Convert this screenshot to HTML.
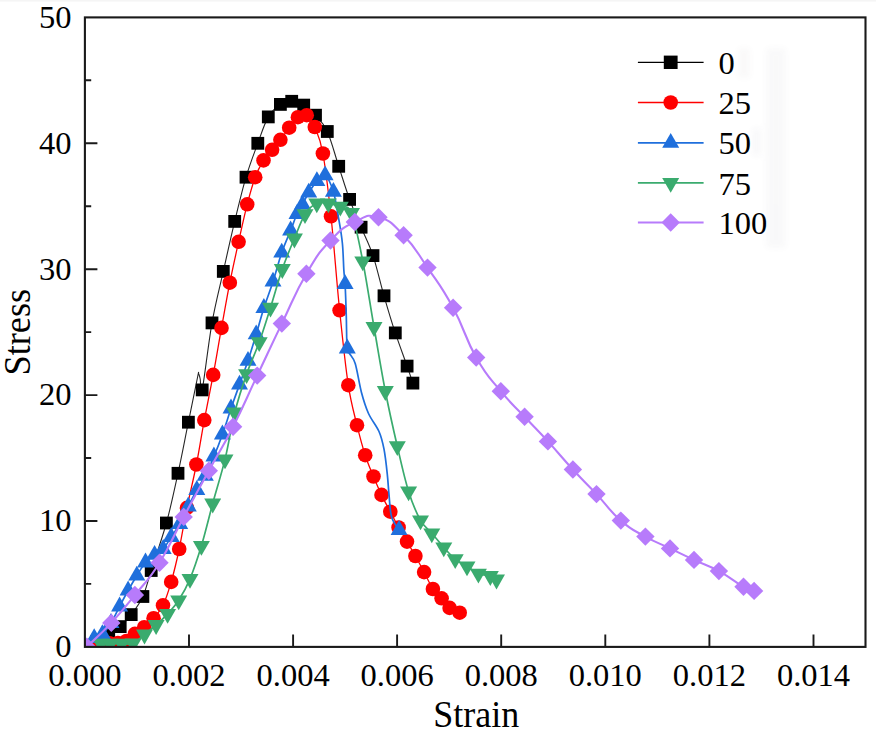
<!DOCTYPE html><html><head><meta charset="utf-8"><title>Stress-Strain</title>
<style>html,body{margin:0;padding:0;background:#fff;}svg{display:block;}text{font-family:"Liberation Serif",serif;fill:#000;}</style></head><body>
<svg width="876" height="729" viewBox="0 0 876 729">
<rect width="876" height="729" fill="#fff"/><rect width="876" height="1.6" fill="#f5f5f5"/>
<defs><clipPath id="cp"><rect x="84.9" y="17.4" width="780.6" height="629.5"/></clipPath></defs>
<g clip-path="url(#cp)">
<path d="M85.3,646.0C87.2,645.2 92.9,643.3 96.8,641.5C100.7,639.7 104.8,637.5 108.7,635.0C112.6,632.5 116.5,630.0 120.2,626.6C124.0,623.2 127.4,619.6 131.2,614.6C135.0,609.6 139.6,603.9 142.9,596.5C146.2,589.1 147.3,582.8 151.2,570.5C155.1,558.2 161.9,539.2 166.4,523.0C170.9,506.8 174.3,490.1 178.0,473.3C181.7,456.5 185.1,438.2 188.4,422.2C191.7,406.1 195.9,385.1 197.6,377.0C199.3,368.9 198.2,373.5 198.6,373.8C199.0,374.1 199.6,376.3 200.2,379.0C200.8,381.7 200.2,399.2 202.2,389.9C204.2,380.5 208.5,342.6 212.0,322.9C215.5,303.1 219.5,288.3 223.3,271.4C227.1,254.5 230.9,237.1 234.7,221.4C238.5,205.7 242.2,190.2 246.0,177.2C249.8,164.2 254.1,153.4 257.8,143.3C261.5,133.2 264.5,123.4 268.3,116.9C272.1,110.4 276.5,107.0 280.4,104.4C284.3,101.8 287.8,101.2 291.7,101.3C295.6,101.4 299.7,102.8 303.7,105.1C307.7,107.4 311.6,110.8 315.5,115.2C319.4,119.6 323.4,123.0 327.3,131.5C331.2,140.0 335.0,155.0 338.7,166.3C342.4,177.6 345.9,189.2 349.6,199.4C353.3,209.6 357.2,217.8 361.1,227.2C365.0,236.6 369.2,244.2 373.0,255.6C376.8,267.0 380.3,282.9 384.0,295.8C387.7,308.7 391.4,321.2 395.3,332.9C399.2,344.6 404.2,357.7 407.1,366.1C410.0,374.5 411.9,380.3 412.9,383.1" fill="none" stroke="#262626" stroke-width="1.1" stroke-linejoin="round"/>
<rect x="78.9" y="639.6" width="12.8" height="12.8" fill="#000000"/><rect x="90.4" y="635.1" width="12.8" height="12.8" fill="#000000"/><rect x="102.3" y="628.6" width="12.8" height="12.8" fill="#000000"/><rect x="113.8" y="620.2" width="12.8" height="12.8" fill="#000000"/><rect x="124.8" y="608.2" width="12.8" height="12.8" fill="#000000"/><rect x="136.5" y="590.1" width="12.8" height="12.8" fill="#000000"/><rect x="144.8" y="564.1" width="12.8" height="12.8" fill="#000000"/><rect x="160.0" y="516.6" width="12.8" height="12.8" fill="#000000"/><rect x="171.6" y="466.9" width="12.8" height="12.8" fill="#000000"/><rect x="182.0" y="415.8" width="12.8" height="12.8" fill="#000000"/><rect x="195.8" y="383.5" width="12.8" height="12.8" fill="#000000"/><rect x="205.6" y="316.5" width="12.8" height="12.8" fill="#000000"/><rect x="216.9" y="265.0" width="12.8" height="12.8" fill="#000000"/><rect x="228.3" y="215.0" width="12.8" height="12.8" fill="#000000"/><rect x="239.6" y="170.8" width="12.8" height="12.8" fill="#000000"/><rect x="251.4" y="136.9" width="12.8" height="12.8" fill="#000000"/><rect x="261.9" y="110.5" width="12.8" height="12.8" fill="#000000"/><rect x="274.0" y="98.0" width="12.8" height="12.8" fill="#000000"/><rect x="285.3" y="94.9" width="12.8" height="12.8" fill="#000000"/><rect x="297.3" y="98.7" width="12.8" height="12.8" fill="#000000"/><rect x="309.1" y="108.8" width="12.8" height="12.8" fill="#000000"/><rect x="320.9" y="125.1" width="12.8" height="12.8" fill="#000000"/><rect x="332.3" y="159.9" width="12.8" height="12.8" fill="#000000"/><rect x="343.2" y="193.0" width="12.8" height="12.8" fill="#000000"/><rect x="354.7" y="220.8" width="12.8" height="12.8" fill="#000000"/><rect x="366.6" y="249.2" width="12.8" height="12.8" fill="#000000"/><rect x="377.6" y="289.4" width="12.8" height="12.8" fill="#000000"/><rect x="388.9" y="326.5" width="12.8" height="12.8" fill="#000000"/><rect x="400.7" y="359.7" width="12.8" height="12.8" fill="#000000"/><rect x="406.5" y="376.7" width="12.8" height="12.8" fill="#000000"/>
<path d="M92.4,645.0C93.8,644.8 98.1,643.8 100.9,643.5C103.7,643.2 106.6,643.3 109.4,643.2C112.2,643.1 115.1,643.4 117.9,643.0C120.7,642.6 123.6,642.5 126.4,641.0C129.2,639.5 131.9,636.1 134.9,633.8C137.9,631.5 141.1,629.8 144.2,627.2C147.3,624.6 150.5,621.9 153.6,618.2C156.7,614.6 160.1,611.3 163.0,605.3C165.9,599.2 168.5,591.3 171.2,581.9C173.9,572.5 176.6,561.4 179.2,549.0C181.8,536.6 184.1,521.9 187.0,507.8C189.9,493.7 193.5,479.1 196.4,464.5C199.3,449.9 201.5,435.0 204.3,420.1C207.1,405.2 210.3,390.3 213.2,374.9C216.1,359.5 218.7,343.3 221.5,327.9C224.3,312.5 227.0,297.0 229.8,282.7C232.7,268.4 235.7,254.9 238.6,241.8C241.5,228.7 244.4,215.1 247.2,204.3C250.0,193.5 252.5,184.5 255.2,177.2C257.9,169.9 260.7,165.0 263.5,160.4C266.3,155.8 269.3,153.2 272.1,149.8C274.9,146.4 277.5,143.5 280.4,139.8C283.2,136.1 286.3,131.5 289.2,127.7C292.1,123.9 295.0,119.3 297.9,117.2C300.8,115.1 303.9,113.6 306.7,115.2C309.5,116.8 312.1,120.6 314.8,127.0C317.5,133.4 320.2,138.6 322.9,153.5C325.6,168.4 328.2,190.2 331.0,216.3C333.8,242.4 336.7,282.2 339.6,310.3C342.5,338.4 345.4,366.1 348.3,385.2C351.2,404.3 354.2,413.5 357.0,425.2C359.8,436.9 362.4,446.6 365.2,455.2C367.9,463.8 370.8,469.9 373.5,476.5C376.2,483.1 378.7,489.0 381.5,494.9C384.3,500.8 387.4,506.3 390.3,511.7C393.2,517.1 395.8,522.5 398.6,527.5C401.4,532.5 404.2,536.9 407.0,541.6C409.8,546.4 412.5,550.9 415.4,556.0C418.2,561.1 421.2,566.6 424.1,572.1C427.0,577.6 430.0,584.6 432.9,589.0C435.8,593.4 438.8,595.1 441.6,598.3C444.4,601.4 446.6,605.5 449.6,607.9C452.6,610.3 458.0,611.9 459.7,612.7" fill="none" stroke="#ff0000" stroke-width="1.3" stroke-linejoin="round"/>
<circle cx="92.4" cy="645.0" r="7.3" fill="#ff0000"/><circle cx="100.9" cy="643.5" r="7.3" fill="#ff0000"/><circle cx="109.4" cy="643.2" r="7.3" fill="#ff0000"/><circle cx="117.9" cy="643.0" r="7.3" fill="#ff0000"/><circle cx="126.4" cy="641.0" r="7.3" fill="#ff0000"/><circle cx="134.9" cy="633.8" r="7.3" fill="#ff0000"/><circle cx="144.2" cy="627.2" r="7.3" fill="#ff0000"/><circle cx="153.6" cy="618.2" r="7.3" fill="#ff0000"/><circle cx="163.0" cy="605.3" r="7.3" fill="#ff0000"/><circle cx="171.2" cy="581.9" r="7.3" fill="#ff0000"/><circle cx="179.2" cy="549.0" r="7.3" fill="#ff0000"/><circle cx="187.0" cy="507.8" r="7.3" fill="#ff0000"/><circle cx="196.4" cy="464.5" r="7.3" fill="#ff0000"/><circle cx="204.3" cy="420.1" r="7.3" fill="#ff0000"/><circle cx="213.2" cy="374.9" r="7.3" fill="#ff0000"/><circle cx="221.5" cy="327.9" r="7.3" fill="#ff0000"/><circle cx="229.8" cy="282.7" r="7.3" fill="#ff0000"/><circle cx="238.6" cy="241.8" r="7.3" fill="#ff0000"/><circle cx="247.2" cy="204.3" r="7.3" fill="#ff0000"/><circle cx="255.2" cy="177.2" r="7.3" fill="#ff0000"/><circle cx="263.5" cy="160.4" r="7.3" fill="#ff0000"/><circle cx="272.1" cy="149.8" r="7.3" fill="#ff0000"/><circle cx="280.4" cy="139.8" r="7.3" fill="#ff0000"/><circle cx="289.2" cy="127.7" r="7.3" fill="#ff0000"/><circle cx="297.9" cy="117.2" r="7.3" fill="#ff0000"/><circle cx="306.7" cy="115.2" r="7.3" fill="#ff0000"/><circle cx="314.8" cy="127.0" r="7.3" fill="#ff0000"/><circle cx="322.9" cy="153.5" r="7.3" fill="#ff0000"/><circle cx="331.0" cy="216.3" r="7.3" fill="#ff0000"/><circle cx="339.6" cy="310.3" r="7.3" fill="#ff0000"/><circle cx="348.3" cy="385.2" r="7.3" fill="#ff0000"/><circle cx="357.0" cy="425.2" r="7.3" fill="#ff0000"/><circle cx="365.2" cy="455.2" r="7.3" fill="#ff0000"/><circle cx="373.5" cy="476.5" r="7.3" fill="#ff0000"/><circle cx="381.5" cy="494.9" r="7.3" fill="#ff0000"/><circle cx="390.3" cy="511.7" r="7.3" fill="#ff0000"/><circle cx="398.6" cy="527.5" r="7.3" fill="#ff0000"/><circle cx="407.0" cy="541.6" r="7.3" fill="#ff0000"/><circle cx="415.4" cy="556.0" r="7.3" fill="#ff0000"/><circle cx="424.1" cy="572.1" r="7.3" fill="#ff0000"/><circle cx="432.9" cy="589.0" r="7.3" fill="#ff0000"/><circle cx="441.6" cy="598.3" r="7.3" fill="#ff0000"/><circle cx="449.6" cy="607.9" r="7.3" fill="#ff0000"/><circle cx="459.7" cy="612.7" r="7.3" fill="#ff0000"/>
<path d="M86.0,643.5C87.4,642.6 91.5,639.7 94.2,638.2C96.9,636.6 99.6,636.6 102.4,634.1C105.2,631.5 108.1,627.6 111.0,623.0C113.9,618.4 116.8,611.9 119.6,606.5C122.4,601.1 125.2,595.6 128.1,590.5C131.0,585.3 133.9,580.3 136.8,575.7C139.7,571.0 142.5,566.0 145.5,562.5C148.5,559.0 151.7,557.0 154.6,554.8C157.5,552.5 160.4,551.9 163.2,549.0C166.0,546.0 168.4,541.1 171.2,537.0C173.9,532.8 176.8,529.3 179.7,524.2C182.5,519.1 185.4,512.2 188.2,506.5C191.1,500.8 194.0,495.1 196.8,490.0C199.7,484.9 202.5,481.4 205.3,475.8C208.2,470.2 211.1,463.4 213.9,456.5C216.8,449.6 219.6,442.5 222.4,434.5C225.3,426.5 228.2,416.8 231.0,408.5C233.8,400.2 236.7,392.5 239.5,384.6C242.3,376.6 245.2,369.1 248.0,360.8C250.8,352.4 253.5,343.2 256.2,334.4C258.8,325.6 261.1,316.8 263.9,308.0C266.7,299.2 270.0,290.9 273.0,281.7C276.0,272.5 278.8,261.2 281.7,252.7C284.6,244.1 288.1,236.9 290.6,230.5C293.2,224.0 295.0,218.3 297.0,214.0C299.0,209.6 300.6,208.0 302.5,204.5C304.4,200.9 306.3,196.6 308.7,192.7C311.1,188.8 314.2,184.0 316.9,181.1C319.6,178.2 322.4,173.6 325.1,175.4C327.9,177.2 331.1,184.3 333.4,191.8C335.7,199.3 337.5,211.9 339.0,220.5C340.5,229.1 341.6,235.3 342.4,243.5C343.2,251.6 343.4,262.7 343.8,269.5C344.2,276.3 344.7,276.3 345.1,284.2C345.5,292.0 346.0,305.7 346.3,316.5C346.6,327.3 346.6,342.8 347.1,349.0C347.6,355.1 348.1,351.1 349.5,353.5C350.9,355.9 353.2,357.0 355.2,363.5C357.2,369.9 359.2,383.8 361.4,392.2C363.6,400.5 365.6,406.9 368.5,413.5C371.4,420.0 376.4,425.5 379.0,431.5C381.6,437.4 382.6,442.0 384.0,449.2C385.4,456.3 386.5,466.7 387.3,474.3C388.1,481.8 388.3,487.4 389.0,494.5C389.7,501.6 389.9,511.1 391.6,517.0C393.3,522.9 397.9,527.8 399.1,530.0" fill="none" stroke="#1f6fdc" stroke-width="1.7" stroke-linejoin="round"/>
<path d="M94.2,628.3 L102.7,643.1 L85.7,643.1Z" fill="#1f6fdc"/><path d="M102.4,624.2 L110.9,639.0 L93.9,639.0Z" fill="#1f6fdc"/><path d="M111.0,613.1 L119.5,627.9 L102.5,627.9Z" fill="#1f6fdc"/><path d="M119.6,596.6 L128.1,611.4 L111.1,611.4Z" fill="#1f6fdc"/><path d="M128.1,580.6 L136.6,595.4 L119.6,595.4Z" fill="#1f6fdc"/><path d="M136.8,565.8 L145.3,580.6 L128.3,580.6Z" fill="#1f6fdc"/><path d="M145.5,552.6 L154.0,567.4 L137.0,567.4Z" fill="#1f6fdc"/><path d="M154.6,544.9 L163.1,559.7 L146.1,559.7Z" fill="#1f6fdc"/><path d="M163.2,539.1 L171.7,553.9 L154.7,553.9Z" fill="#1f6fdc"/><path d="M171.2,527.1 L179.7,541.9 L162.7,541.9Z" fill="#1f6fdc"/><path d="M179.7,514.3 L188.2,529.1 L171.2,529.1Z" fill="#1f6fdc"/><path d="M188.2,496.6 L196.8,511.4 L179.8,511.4Z" fill="#1f6fdc"/><path d="M196.8,480.1 L205.3,494.9 L188.3,494.9Z" fill="#1f6fdc"/><path d="M205.3,465.9 L213.8,480.7 L196.8,480.7Z" fill="#1f6fdc"/><path d="M213.9,446.6 L222.4,461.4 L205.4,461.4Z" fill="#1f6fdc"/><path d="M222.4,424.6 L230.9,439.4 L213.9,439.4Z" fill="#1f6fdc"/><path d="M231.0,398.6 L239.5,413.4 L222.5,413.4Z" fill="#1f6fdc"/><path d="M239.5,374.7 L248.0,389.5 L231.0,389.5Z" fill="#1f6fdc"/><path d="M248.0,350.9 L256.5,365.7 L239.5,365.7Z" fill="#1f6fdc"/><path d="M256.2,324.5 L264.7,339.3 L247.7,339.3Z" fill="#1f6fdc"/><path d="M263.9,298.1 L272.4,312.9 L255.4,312.9Z" fill="#1f6fdc"/><path d="M273.0,271.8 L281.5,286.6 L264.5,286.6Z" fill="#1f6fdc"/><path d="M281.7,242.8 L290.2,257.6 L273.2,257.6Z" fill="#1f6fdc"/><path d="M290.6,220.6 L299.1,235.4 L282.1,235.4Z" fill="#1f6fdc"/><path d="M297.0,204.1 L305.5,218.9 L288.5,218.9Z" fill="#1f6fdc"/><path d="M302.5,194.6 L311.0,209.4 L294.0,209.4Z" fill="#1f6fdc"/><path d="M308.7,182.8 L317.2,197.6 L300.2,197.6Z" fill="#1f6fdc"/><path d="M316.9,171.2 L325.4,186.0 L308.4,186.0Z" fill="#1f6fdc"/><path d="M325.1,165.5 L333.6,180.3 L316.6,180.3Z" fill="#1f6fdc"/><path d="M333.4,181.9 L341.9,196.7 L324.9,196.7Z" fill="#1f6fdc"/><path d="M345.1,274.3 L353.6,289.1 L336.6,289.1Z" fill="#1f6fdc"/><path d="M347.3,338.6 L355.8,353.4 L338.8,353.4Z" fill="#1f6fdc"/><path d="M399.1,520.1 L407.6,534.9 L390.6,534.9Z" fill="#1f6fdc"/>
<path d="M101.0,643.7C102.5,643.7 106.8,643.7 110.3,643.7C113.8,643.7 117.9,643.8 121.7,643.7C125.5,643.7 129.3,644.9 133.1,643.3C136.9,641.8 140.7,637.6 144.5,634.5C148.3,631.5 152.2,628.5 156.1,625.0C159.9,621.6 163.8,617.9 167.6,613.8C171.4,609.7 175.0,606.2 178.7,600.3C182.4,594.5 186.2,587.9 190.0,578.8C193.8,569.7 197.6,558.4 201.4,545.8C205.2,533.3 208.8,517.9 212.7,503.5C216.6,489.1 221.3,474.6 225.0,459.4C228.7,444.2 231.2,426.5 234.8,412.3C238.4,398.1 242.5,385.8 246.6,374.1C250.7,362.4 255.2,353.3 259.2,342.2C263.2,331.1 266.6,319.8 270.5,307.6C274.4,295.4 278.3,280.5 282.3,269.0C286.3,257.5 290.6,247.7 294.4,238.5C298.2,229.4 301.3,220.1 305.0,214.2C308.7,208.4 312.9,205.1 316.8,203.3C320.7,201.5 324.5,202.8 328.4,203.3C332.3,203.9 336.4,205.1 340.3,206.7C344.2,208.3 347.8,203.7 351.5,212.8C355.2,221.9 359.1,242.3 362.8,261.3C366.6,280.4 370.2,305.4 374.0,327.0C377.8,348.6 381.4,371.2 385.3,391.0C389.2,410.9 393.4,429.5 397.3,446.2C401.2,463.0 404.7,479.1 408.6,491.4C412.5,503.8 416.6,513.3 420.5,520.3C424.4,527.3 427.9,528.8 431.8,533.3C435.7,537.8 439.9,543.1 443.8,547.4C447.7,551.7 451.3,556.0 455.2,559.1C459.1,562.3 463.1,564.0 467.0,566.4C470.9,568.9 474.5,572.1 478.4,573.7C482.3,575.3 487.3,575.1 490.3,576.0C493.3,577.0 495.5,578.9 496.5,579.5" fill="none" stroke="#3aab6e" stroke-width="1.7" stroke-linejoin="round"/>
<path d="M101.0,653.6 L109.5,638.8 L92.5,638.8Z" fill="#3aab6e"/><path d="M110.3,653.6 L118.8,638.8 L101.8,638.8Z" fill="#3aab6e"/><path d="M121.7,653.6 L130.2,638.8 L113.2,638.8Z" fill="#3aab6e"/><path d="M133.1,653.2 L141.6,638.4 L124.6,638.4Z" fill="#3aab6e"/><path d="M144.5,644.4 L153.0,629.6 L136.0,629.6Z" fill="#3aab6e"/><path d="M156.1,634.9 L164.6,620.1 L147.6,620.1Z" fill="#3aab6e"/><path d="M167.6,623.7 L176.1,608.9 L159.1,608.9Z" fill="#3aab6e"/><path d="M178.7,610.2 L187.2,595.4 L170.2,595.4Z" fill="#3aab6e"/><path d="M190.0,588.7 L198.5,573.9 L181.5,573.9Z" fill="#3aab6e"/><path d="M201.4,555.7 L209.9,540.9 L192.9,540.9Z" fill="#3aab6e"/><path d="M212.7,513.4 L221.2,498.6 L204.2,498.6Z" fill="#3aab6e"/><path d="M225.0,469.3 L233.5,454.5 L216.5,454.5Z" fill="#3aab6e"/><path d="M234.8,422.2 L243.3,407.4 L226.3,407.4Z" fill="#3aab6e"/><path d="M246.6,384.0 L255.1,369.2 L238.1,369.2Z" fill="#3aab6e"/><path d="M259.2,352.1 L267.7,337.3 L250.7,337.3Z" fill="#3aab6e"/><path d="M270.5,317.5 L279.0,302.7 L262.0,302.7Z" fill="#3aab6e"/><path d="M282.3,278.9 L290.8,264.1 L273.8,264.1Z" fill="#3aab6e"/><path d="M294.4,248.4 L302.9,233.6 L285.9,233.6Z" fill="#3aab6e"/><path d="M305.0,224.1 L313.5,209.3 L296.5,209.3Z" fill="#3aab6e"/><path d="M316.8,213.2 L325.3,198.4 L308.3,198.4Z" fill="#3aab6e"/><path d="M328.4,213.2 L336.9,198.4 L319.9,198.4Z" fill="#3aab6e"/><path d="M340.3,216.6 L348.8,201.8 L331.8,201.8Z" fill="#3aab6e"/><path d="M351.5,222.7 L360.0,207.9 L343.0,207.9Z" fill="#3aab6e"/><path d="M362.8,271.2 L371.3,256.4 L354.3,256.4Z" fill="#3aab6e"/><path d="M374.0,336.9 L382.5,322.1 L365.5,322.1Z" fill="#3aab6e"/><path d="M385.3,400.9 L393.8,386.1 L376.8,386.1Z" fill="#3aab6e"/><path d="M397.3,456.1 L405.8,441.3 L388.8,441.3Z" fill="#3aab6e"/><path d="M408.6,501.3 L417.1,486.5 L400.1,486.5Z" fill="#3aab6e"/><path d="M420.5,530.2 L429.0,515.4 L412.0,515.4Z" fill="#3aab6e"/><path d="M431.8,543.2 L440.3,528.4 L423.3,528.4Z" fill="#3aab6e"/><path d="M443.8,557.3 L452.3,542.5 L435.3,542.5Z" fill="#3aab6e"/><path d="M455.2,569.0 L463.7,554.2 L446.7,554.2Z" fill="#3aab6e"/><path d="M467.0,576.3 L475.5,561.5 L458.5,561.5Z" fill="#3aab6e"/><path d="M478.4,583.6 L486.9,568.8 L469.9,568.8Z" fill="#3aab6e"/><path d="M490.3,585.9 L498.8,571.1 L481.8,571.1Z" fill="#3aab6e"/><path d="M496.5,589.4 L505.0,574.6 L488.0,574.6Z" fill="#3aab6e"/>
<path d="M86.8,646.8C92.9,640.8 99.3,635.8 111.3,622.9C123.3,610.0 122.9,610.0 134.9,595.0C147.0,580.0 147.3,582.2 159.5,562.7C171.7,543.2 171.4,539.9 183.7,516.9C196.0,493.9 196.5,493.4 208.8,470.8C221.2,448.2 221.0,450.5 233.1,426.7C245.2,402.9 245.0,401.4 257.2,375.6C269.4,349.8 269.5,349.1 281.8,323.6C294.1,298.1 294.2,294.5 306.4,273.7C318.6,252.9 318.4,253.4 330.5,240.5C342.6,227.6 342.8,227.8 354.8,222.0C366.8,216.2 366.3,213.9 378.5,217.2C390.7,220.5 391.4,222.6 403.6,235.2C415.9,247.8 415.1,249.5 427.5,267.6C439.9,285.8 440.9,285.3 453.1,307.8C465.3,330.3 464.3,336.6 476.2,357.5C488.1,378.4 488.7,376.4 500.8,391.2C512.9,406.0 512.8,404.2 524.6,416.8C536.4,429.4 535.8,428.2 547.9,441.4C560.0,454.6 560.8,456.3 572.9,469.5C585.0,482.7 584.5,481.3 596.5,494.1C608.5,506.9 608.6,510.0 620.8,520.6C633.0,531.2 633.1,529.7 645.4,536.6C657.7,543.5 657.9,542.6 670.0,548.4C682.1,554.2 681.8,554.2 694.0,559.9C706.2,565.6 706.5,564.4 718.9,571.1C731.3,577.8 734.7,581.8 743.5,586.8C752.3,591.8 751.5,589.9 754.1,590.9" fill="none" stroke="#b77bfb" stroke-width="2.1" stroke-linejoin="round"/>
<path d="M86.8,637.6 L96.0,646.8 L86.8,656.0 L77.6,646.8Z" fill="#b77bfb"/><path d="M111.3,613.7 L120.5,622.9 L111.3,632.1 L102.1,622.9Z" fill="#b77bfb"/><path d="M134.9,585.8 L144.1,595.0 L134.9,604.2 L125.7,595.0Z" fill="#b77bfb"/><path d="M159.5,553.5 L168.7,562.7 L159.5,571.9 L150.3,562.7Z" fill="#b77bfb"/><path d="M183.7,507.7 L192.9,516.9 L183.7,526.1 L174.5,516.9Z" fill="#b77bfb"/><path d="M208.8,461.6 L218.0,470.8 L208.8,480.0 L199.6,470.8Z" fill="#b77bfb"/><path d="M233.1,417.5 L242.3,426.7 L233.1,435.9 L223.9,426.7Z" fill="#b77bfb"/><path d="M257.2,366.4 L266.4,375.6 L257.2,384.8 L248.0,375.6Z" fill="#b77bfb"/><path d="M281.8,314.4 L291.0,323.6 L281.8,332.8 L272.6,323.6Z" fill="#b77bfb"/><path d="M306.4,264.5 L315.6,273.7 L306.4,282.9 L297.2,273.7Z" fill="#b77bfb"/><path d="M330.5,231.3 L339.7,240.5 L330.5,249.7 L321.3,240.5Z" fill="#b77bfb"/><path d="M354.8,212.8 L364.0,222.0 L354.8,231.2 L345.6,222.0Z" fill="#b77bfb"/><path d="M378.5,208.0 L387.7,217.2 L378.5,226.4 L369.3,217.2Z" fill="#b77bfb"/><path d="M403.6,226.0 L412.8,235.2 L403.6,244.4 L394.4,235.2Z" fill="#b77bfb"/><path d="M427.5,258.4 L436.7,267.6 L427.5,276.8 L418.3,267.6Z" fill="#b77bfb"/><path d="M453.1,298.6 L462.3,307.8 L453.1,317.0 L443.9,307.8Z" fill="#b77bfb"/><path d="M476.2,348.3 L485.4,357.5 L476.2,366.7 L467.0,357.5Z" fill="#b77bfb"/><path d="M500.8,382.0 L510.0,391.2 L500.8,400.4 L491.6,391.2Z" fill="#b77bfb"/><path d="M524.6,407.6 L533.8,416.8 L524.6,426.0 L515.4,416.8Z" fill="#b77bfb"/><path d="M547.9,432.2 L557.1,441.4 L547.9,450.6 L538.7,441.4Z" fill="#b77bfb"/><path d="M572.9,460.3 L582.1,469.5 L572.9,478.7 L563.7,469.5Z" fill="#b77bfb"/><path d="M596.5,484.9 L605.7,494.1 L596.5,503.3 L587.3,494.1Z" fill="#b77bfb"/><path d="M620.8,511.4 L630.0,520.6 L620.8,529.8 L611.6,520.6Z" fill="#b77bfb"/><path d="M645.4,527.4 L654.6,536.6 L645.4,545.8 L636.2,536.6Z" fill="#b77bfb"/><path d="M670.0,539.2 L679.2,548.4 L670.0,557.6 L660.8,548.4Z" fill="#b77bfb"/><path d="M694.0,550.7 L703.2,559.9 L694.0,569.1 L684.8,559.9Z" fill="#b77bfb"/><path d="M718.9,561.9 L728.1,571.1 L718.9,580.3 L709.7,571.1Z" fill="#b77bfb"/><path d="M743.5,577.6 L752.7,586.8 L743.5,596.0 L734.3,586.8Z" fill="#b77bfb"/><path d="M754.1,581.7 L763.3,590.9 L754.1,600.1 L744.9,590.9Z" fill="#b77bfb"/>
</g>
<rect x="84.9" y="17.4" width="780.6" height="629.5" fill="none" stroke="#1a1a1a" stroke-width="2.1"/>
<text x="84.9" y="685.6" font-size="32.5" text-anchor="middle">0.000</text>
<text x="189.0" y="685.6" font-size="32.5" text-anchor="middle">0.002</text>
<text x="293.1" y="685.6" font-size="32.5" text-anchor="middle">0.004</text>
<text x="397.1" y="685.6" font-size="32.5" text-anchor="middle">0.006</text>
<text x="501.2" y="685.6" font-size="32.5" text-anchor="middle">0.008</text>
<text x="605.3" y="685.6" font-size="32.5" text-anchor="middle">0.010</text>
<text x="709.4" y="685.6" font-size="32.5" text-anchor="middle">0.012</text>
<text x="813.5" y="685.6" font-size="32.5" text-anchor="middle">0.014</text>
<text x="71.6" y="657.2" font-size="32.5" text-anchor="end">0</text>
<text x="71.6" y="531.3" font-size="32.5" text-anchor="end">10</text>
<text x="71.6" y="405.4" font-size="32.5" text-anchor="end">20</text>
<text x="71.6" y="279.5" font-size="32.5" text-anchor="end">30</text>
<text x="71.6" y="153.6" font-size="32.5" text-anchor="end">40</text>
<text x="71.6" y="27.7" font-size="32.5" text-anchor="end">50</text>
<path d="M189.0,646.9 V634.4 M293.1,646.9 V634.4 M397.1,646.9 V634.4 M501.2,646.9 V634.4 M605.3,646.9 V634.4 M709.4,646.9 V634.4 M813.5,646.9 V634.4 M84.9,521.0 H97.4 M84.9,395.1 H97.4 M84.9,269.2 H97.4 M84.9,143.3 H97.4 M84.9,583.9 H91.2 M84.9,458.0 H91.2 M84.9,332.1 H91.2 M84.9,206.2 H91.2 M84.9,80.3 H91.2" stroke="#1a1a1a" stroke-width="1.9" fill="none"/>
<text transform="translate(476.3,727) scale(1,1.045)" font-size="36" text-anchor="middle">Strain</text>
<text transform="translate(29.9,332.2) rotate(-90) scale(1,1.04)" font-size="36.3" text-anchor="middle">Stress</text>
<defs><filter id="bl" x="-50%" y="-50%" width="200%" height="200%"><feGaussianBlur stdDeviation="3"/></filter></defs>
<g filter="url(#bl)" opacity="0.03"><rect x="766" y="48" width="20" height="200" fill="#556"/><rect x="738" y="48" width="12" height="30" fill="#655"/><rect x="752" y="128" width="9" height="28" fill="#446"/><rect x="767" y="208" width="9" height="34" fill="#446"/></g>
<path d="M637.9,62.3 H703.6" stroke="#000000" stroke-width="1.2"/>
<rect x="663.8" y="55.6" width="13.8" height="13.4" fill="#000"/>
<text x="718.6" y="73.9" font-size="32.5">0</text>
<path d="M637.9,102.5 H703.6" stroke="#ff0000" stroke-width="1.3"/>
<circle cx="670.7" cy="102.5" r="7.3" fill="#ff0000"/>
<text x="718.6" y="114.1" font-size="32.5">25</text>
<path d="M637.9,142.8 H703.6" stroke="#1f6fdc" stroke-width="1.7"/>
<path d="M670.7,132.9 L679.2,147.7 L662.2,147.7Z" fill="#1f6fdc"/>
<text x="718.6" y="154.4" font-size="32.5">50</text>
<path d="M637.9,182.9 H703.6" stroke="#3aab6e" stroke-width="1.7"/>
<path d="M670.7,192.8 L679.2,178.0 L662.2,178.0Z" fill="#3aab6e"/>
<text x="718.6" y="194.5" font-size="32.5">75</text>
<path d="M637.9,222.5 H703.6" stroke="#b77bfb" stroke-width="2.1"/>
<path d="M670.7,213.3 L679.9,222.5 L670.7,231.7 L661.5,222.5Z" fill="#b77bfb"/>
<text x="718.6" y="234.1" font-size="32.5">100</text>
</svg></body></html>
